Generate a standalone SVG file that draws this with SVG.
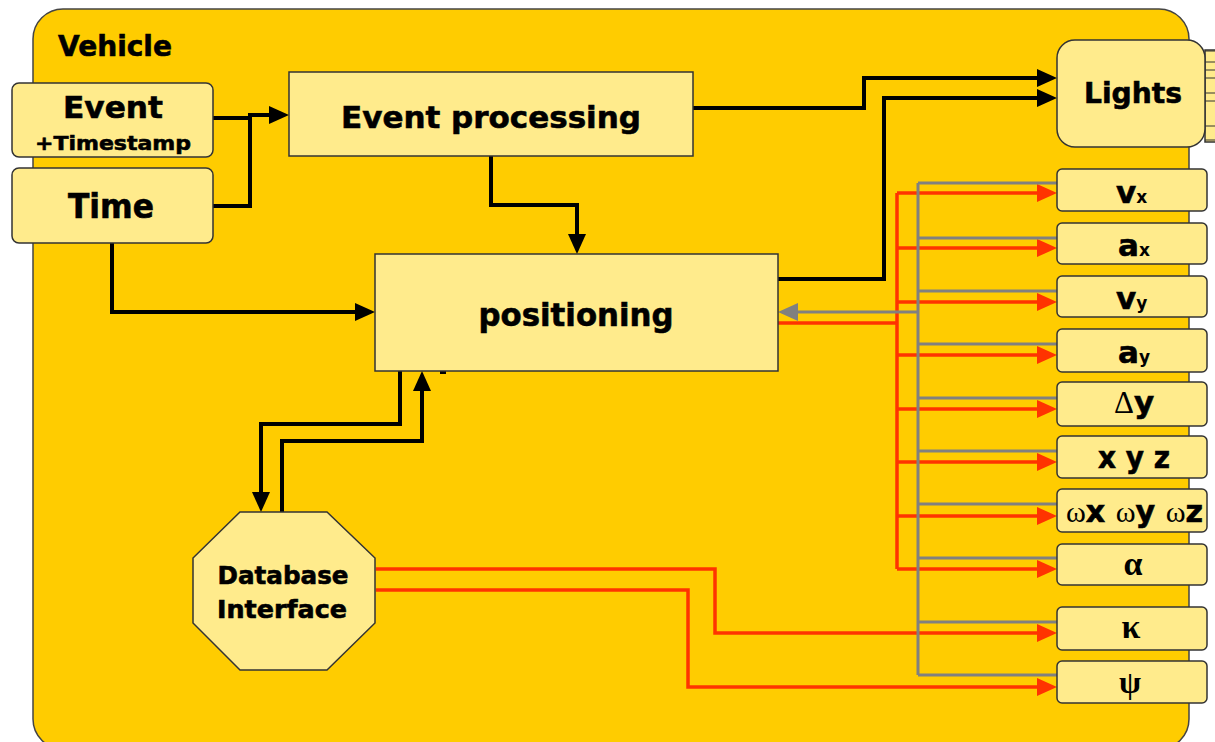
<svg xmlns="http://www.w3.org/2000/svg" width="1215" height="742" viewBox="0 0 1215 742">
<defs>
<style>
.bg{fill:#FFCC00;stroke:#444;stroke-width:1.5}
.nd{fill:#FFEB8C;stroke:#333;stroke-width:1.5}
.t{font-family:"DejaVu Sans","Verdana",sans-serif;font-weight:bold;fill:#000;stroke:#000;stroke-width:0.6}
.g{font-family:"Liberation Serif","DejaVu Serif",serif;font-weight:bold;fill:#000}
.gl{font-family:"Liberation Serif","DejaVu Serif",serif;font-weight:normal;fill:#000}
.bk{fill:none;stroke:#000;stroke-width:4}
.gr{fill:none;stroke:#808080;stroke-width:3}
.rd{fill:none;stroke:#FF3300;stroke-width:3.5}
</style>
<marker id="ab" markerUnits="userSpaceOnUse" markerWidth="20" markerHeight="18" refX="0" refY="9" orient="auto" overflow="visible"><path d="M0,0 L20,9 L0,18 Z" fill="#000"/></marker>
<marker id="ag" markerUnits="userSpaceOnUse" markerWidth="20" markerHeight="18" refX="0" refY="9" orient="auto" overflow="visible"><path d="M0,0 L20,9 L0,18 Z" fill="#808080"/></marker>
<marker id="ar" markerUnits="userSpaceOnUse" markerWidth="20" markerHeight="18" refX="0" refY="9" orient="auto" overflow="visible"><path d="M0,0 L20,9 L0,18 Z" fill="#FF3300"/></marker>
</defs>
<rect x="0" y="0" width="1215" height="742" fill="#fff"/>
<g id="vehicle">
<rect class="bg" x="33" y="9" width="1156" height="740" rx="30" ry="30"/>
<text class="t" x="58" y="56" font-size="28" textLength="114" lengthAdjust="spacingAndGlyphs">Vehicle</text>
</g>
<g id="connectors">
<path class="bk" d="M213,118 H250"/>
<path class="bk" d="M213,206 H250 V115 H269" marker-end="url(#ab)"/>
<path class="bk" d="M491,156 V205 H577 V234" marker-end="url(#ab)"/>
<path class="bk" d="M112,243 V312 H355" marker-end="url(#ab)"/>
<path class="bk" d="M693,108 H864 V78 H1037" marker-end="url(#ab)"/>
<path class="bk" d="M778,279 H884 V98 H1037" marker-end="url(#ab)"/>
<path class="bk" d="M400,371 V424 H261 V492" marker-end="url(#ab)"/>
<path class="bk" d="M282,512 V441 H422 V391" marker-end="url(#ab)"/>
<rect x="440" y="371" width="6" height="3" fill="#000"/>
<path class="rd" d="M778,323 H897"/>
<path class="rd" d="M897,193 V569"/>
<path class="rd" d="M897,193 H1037" marker-end="url(#ar)"/>
<path class="rd" d="M897,248 H1037" marker-end="url(#ar)"/>
<path class="rd" d="M897,302 H1037" marker-end="url(#ar)"/>
<path class="rd" d="M897,355 H1037" marker-end="url(#ar)"/>
<path class="rd" d="M897,409 H1037" marker-end="url(#ar)"/>
<path class="rd" d="M897,462 H1037" marker-end="url(#ar)"/>
<path class="rd" d="M897,516 H1037" marker-end="url(#ar)"/>
<path class="rd" d="M897,569 H1037" marker-end="url(#ar)"/>
<path class="rd" d="M376,569 H715 V633 H1037" marker-end="url(#ar)"/>
<path class="rd" d="M376,590 H688 V687 H1037" marker-end="url(#ar)"/>
<path class="gr" d="M918,183 V675"/>
<path class="gr" d="M918,183 H1057 M918,238 H1057 M918,291 H1057 M918,344 H1057 M918,398 H1057 M918,451 H1057 M918,504 H1057 M918,558 H1057 M918,622 H1057 M918,675 H1057"/>
<path class="gr" d="M918,312 H798" marker-end="url(#ag)"/>
</g>
<g id="event">
<rect class="nd" x="12" y="83" width="201" height="74" rx="7"/>
<text class="t" x="113" y="118" font-size="31" text-anchor="middle" textLength="100" lengthAdjust="spacingAndGlyphs">Event</text>
<text class="t" x="113" y="150" font-size="20" text-anchor="middle" textLength="156" lengthAdjust="spacingAndGlyphs">+Timestamp</text>
</g>
<g id="time">
<rect class="nd" x="12" y="168" width="201" height="75" rx="7"/>
<text class="t" x="111" y="218" font-size="33" text-anchor="middle" textLength="86" lengthAdjust="spacingAndGlyphs">Time</text>
</g>
<g id="event-processing">
<rect class="nd" x="289" y="72" width="404" height="84"/>
<text class="t" x="491" y="128" font-size="31" text-anchor="middle" textLength="300" lengthAdjust="spacingAndGlyphs">Event processing</text>
</g>
<g id="positioning">
<rect class="nd" x="375" y="254" width="403" height="117"/>
<text class="t" x="576" y="326" font-size="32" text-anchor="middle" textLength="195" lengthAdjust="spacingAndGlyphs">positioning</text>
</g>
<g id="lights">
<rect class="nd" x="1205" y="50" width="12" height="92"/>
<path d="M1205,51 H1215 M1205,62 H1215 M1205,70 H1215 M1205,78 H1215 M1205,93 H1215 M1205,101 H1215 M1205,126 H1215 M1205,140 H1215" stroke="#333" stroke-width="1"/>
<rect class="nd" x="1057" y="40" width="148" height="107" rx="18"/>
<text class="t" x="1133" y="103" font-size="29" text-anchor="middle" textLength="98" lengthAdjust="spacingAndGlyphs">Lights</text>
</g>
<g id="database-interface">
<polygon class="nd" points="240,512 327,512 375,558 375,623 327,670 240,670 193,623 193,558"/>
<text class="t" x="283" y="584" font-size="24" text-anchor="middle" textLength="131" lengthAdjust="spacingAndGlyphs">Database</text>
<text class="t" x="282" y="618" font-size="24" text-anchor="middle" textLength="130" lengthAdjust="spacingAndGlyphs">Interface</text>
</g>
<g id="vx">
<rect class="nd" x="1057" y="169" width="150" height="42" rx="5"/>
<text class="t" x="1116" y="203" font-size="31">v<tspan font-size="17" stroke-width="0">x</tspan></text>
</g>
<g id="ax">
<rect class="nd" x="1057" y="223" width="150" height="41" rx="5"/>
<text class="t" x="1118" y="256" font-size="31">a<tspan font-size="17" stroke-width="0">x</tspan></text>
</g>
<g id="vy">
<rect class="nd" x="1057" y="276" width="150" height="41" rx="5"/>
<text class="t" x="1116" y="309" font-size="31">v<tspan font-size="17" stroke-width="0">y</tspan></text>
</g>
<g id="ay">
<rect class="nd" x="1057" y="329" width="150" height="43" rx="5"/>
<text class="t" x="1118" y="363" font-size="31">a<tspan font-size="17" stroke-width="0">y</tspan></text>
</g>
<g id="dy">
<rect class="nd" x="1057" y="382" width="150" height="44" rx="5"/>
<text x="1114" y="413" font-size="31"><tspan class="gl">Δ</tspan><tspan class="t">y</tspan></text>
</g>
<g id="xyz">
<rect class="nd" x="1057" y="436" width="150" height="42" rx="5"/>
<text class="t" x="1098" y="468" font-size="30" textLength="72" lengthAdjust="spacingAndGlyphs">x y z</text>
</g>
<g id="omega">
<rect class="nd" x="1057" y="489" width="150" height="43" rx="5"/>
<text x="1066" y="522" font-size="30" textLength="137" lengthAdjust="spacingAndGlyphs"><tspan class="gl">ω</tspan><tspan class="t">x </tspan><tspan class="gl">ω</tspan><tspan class="t">y </tspan><tspan class="gl">ω</tspan><tspan class="t">z</tspan></text>
</g>
<g id="alpha">
<rect class="nd" x="1057" y="544" width="150" height="41" rx="5"/>
<text class="g" x="1133" y="575" font-size="34" text-anchor="middle">α</text>
</g>
<g id="kappa">
<rect class="nd" x="1057" y="607" width="150" height="43" rx="5"/>
<text class="g" x="1131" y="638" font-size="34" text-anchor="middle">κ</text>
</g>
<g id="psi">
<rect class="nd" x="1057" y="661" width="150" height="42" rx="5"/>
<text class="g" x="1130" y="693" font-size="32" text-anchor="middle">ψ</text>
</g>
</svg>
